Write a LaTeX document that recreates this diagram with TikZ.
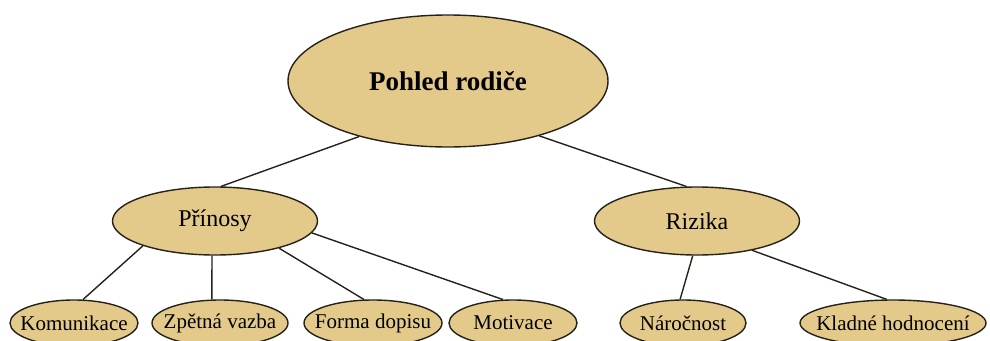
\documentclass[tikz,border=0pt]{standalone}
\usepackage{fontspec}
\setmainfont{Liberation Serif}
\usetikzlibrary{shapes.geometric}
\definecolor{BubbleFill}{RGB}{227,202,138}
\definecolor{EdgeColor}{RGB}{38,34,26}
\tikzset{
  bubble/.style={ellipse, draw=EdgeColor, line width=1.4pt, fill=BubbleFill, inner sep=0pt, text=black},
  rootbubble/.style={bubble, minimum width=320pt, minimum height=132pt, font=\fontsize{27}{30}\selectfont\bfseries},
  midbubble/.style={bubble, minimum width=205pt, minimum height=68pt, font=\fontsize{24}{28}\selectfont},
  leafbubble/.style={bubble, inner xsep=-11pt, minimum height=46pt, font=\fontsize{21}{24}\selectfont},
  link/.style={draw=EdgeColor, line width=1.4pt},
}

\begin{document}
\begin{tikzpicture}[x=1pt, y=-1pt]
  \clip (0,0) rectangle (990,340);
  \node[rootbubble] (root) at (448,81) {Pohled rodiče};
  \node[midbubble] (prinosy) at (215,221) {Přínosy};
  \node[midbubble] (rizika) at (697,221) {Rizika};
  \node[leafbubble, minimum width=128pt] (komunikace) at (74,323) {Komunikace};
  \node[leafbubble, minimum width=136pt] (zpetna) at (220,323) {Zpětná vazba};
  \node[leafbubble, minimum width=138pt] (forma) at (373,323) {Forma dopisu};
  \node[leafbubble, minimum width=128pt] (motivace) at (513,323) {Motivace};
  \node[leafbubble, minimum width=126pt] (narocnost) at (683,323) {Náročnost};
  \node[leafbubble, minimum width=186pt] (kladne) at (893,323) {Kladné hodnocení};
  \draw[link] (root.212) -- (prinosy.80);
  \draw[link] (root.329) -- (rizika.107);
  \draw[link] (prinosy.199) -- (komunikace.69);
  \draw[link] (prinosy.265) -- (zpetna.109);
  \draw[link] (prinosy.337) -- (forma.111);
  \draw[link] (prinosy.353) -- (motivace.113);
  \draw[link] (rizika.263) -- (narocnost.97);
  \draw[link] (rizika.332) -- (kladne.105);
\end{tikzpicture}
\end{document}
